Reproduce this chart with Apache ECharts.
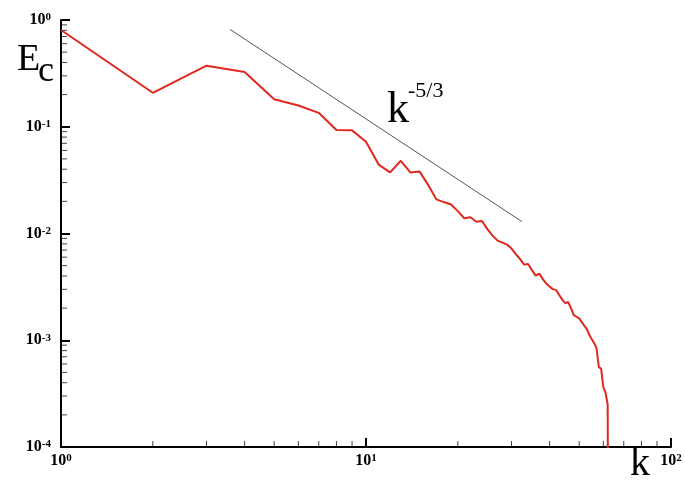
<!DOCTYPE html>
<html>
<head>
<meta charset="utf-8">
<script src="https://cdn.jsdelivr.net/npm/echarts@6/dist/echarts.min.js"></script>
<style>html,body{margin:0;padding:0;background:#fff}#c{width:685px;height:481px}</style>
</head>
<body>
<div id="c"></div>
<script>
// wavenumbers k and spectrum values E_c(k)
var kValues = [1,2,3,4,5,6,7,8,9,10,11,12,13,14,15,16,17,18,19,20,21,22,23,24,25,26,27,28,29,30,31,32,33,34,35,36,37,38,39,40,41,42,43,44,45,46,47,48,49,50,51,52,53,54,55,56,57,58,59,60,61,62,63];
var ecValues = [0.806,0.208,0.373,0.326,0.181,0.158,0.135,0.0931,0.0925,0.0723,0.0442,0.0374,0.048,0.0372,0.038,0.0284,0.0209,0.0197,0.0187,0.0162,0.0139,0.0142,0.0129,0.0131,0.0110,0.00955,0.00858,0.00822,0.00787,0.00722,0.00641,0.00575,0.00511,0.00517,0.00454,0.00403,0.00421,0.00374,0.00339,0.00318,0.00301,0.00295,0.00265,0.0024,0.00223,0.00228,0.0020,0.00172,0.00166,0.0016,0.00148,0.00136,0.00127,0.00112,0.00102,0.00094,0.000843,0.00056,0.000542,0.000363,0.000323,0.00025,0.0000000001];
// reference slope line k^-5/3 (endpoints)
var refK = [3.58, 32.5];
var refE = [0.818, 0.0129];
// axis ranges and minor tick positions
var xRange = [1, 100];
var yRange = [0.0001, 1];
var xMinorTicks = [2,3,4,5,6,7,8,9,20,30,40,50,60,70,80,90];
var yMinorTicks = [0.0002,0.0003,0.0004,0.0005,0.0006,0.0007,0.0008,0.0009,0.002,0.003,0.004,0.005,0.006,0.007,0.008,0.009,0.02,0.03,0.04,0.05,0.06,0.07,0.08,0.09,0.2,0.3,0.4,0.5,0.6,0.7,0.8,0.9];

var serif = "'Liberation Serif','Times New Roman',serif";
var chart = echarts.init(document.getElementById('c'));

function powLabel(v){
  var e = Math.round(Math.log10(v));
  return '{b|10}{s|' + e + '}';
}
var richLab = {
  b: {fontFamily: serif, fontWeight: 'bold', fontSize: 16, color: '#000', verticalAlign: 'bottom', lineHeight: 16},
  s: {fontFamily: serif, fontWeight: 'bold', fontSize: 11, color: '#000', verticalAlign: 'top', lineHeight: 11, padding: [0,0,4,0]}
};

var lineData = kValues.map(function(k, i){ return [k, ecValues[i]]; });
var refData = refK.map(function(k, i){ return [k, refE[i]]; });

chart.setOption({
  animation: false,
  backgroundColor: '#fff',
  grid: {left: 61, right: 14, top: 20, bottom: 34, containLabel: false},
  xAxis: {
    type: 'log', min: xRange[0], max: xRange[1], logBase: 10,
    axisLine: {show: true, onZero: false, lineStyle: {color: '#000', width: 2}},
    axisTick: {show: true, inside: true, length: 9, lineStyle: {color: '#000', width: 2}},
    splitLine: {show: false},
    axisLabel: {formatter: powLabel, rich: richLab, margin: 6}
  },
  yAxis: {
    type: 'log', min: yRange[0], max: yRange[1], logBase: 10,
    axisLine: {show: true, onZero: false, lineStyle: {color: '#000', width: 2}},
    axisTick: {show: true, inside: true, length: 9, lineStyle: {color: '#000', width: 2}},
    splitLine: {show: false},
    axisLabel: {formatter: powLabel, rich: richLab, margin: 10}
  },
  series: [
    {
      type: 'line', data: lineData, showSymbol: false, symbol: 'none', clip: true,
      lineStyle: {color: '#e0281e', width: 2}, z: 3
    },
    {
      type: 'line', data: refData, showSymbol: false, symbol: 'none',
      lineStyle: {color: '#555', width: 1}, z: 2
    },
    {
      type: 'custom', silent: true, clip: false, z: 4,
      data: xMinorTicks.map(function(v){ return [v, yRange[0]]; }),
      renderItem: function(params, api){
        var p = api.coord([api.value(0), api.value(1)]);
        return {type: 'line', shape: {x1: p[0], y1: p[1] - 1, x2: p[0], y2: p[1] - 6}, style: {stroke: '#444', lineWidth: 1}};
      }
    },
    {
      type: 'custom', silent: true, clip: false, z: 4,
      data: yMinorTicks.map(function(v){ return [xRange[0], v]; }),
      renderItem: function(params, api){
        var p = api.coord([api.value(0), api.value(1)]);
        return {type: 'line', shape: {x1: p[0] + 1, y1: p[1], x2: p[0] + 6, y2: p[1]}, style: {stroke: '#444', lineWidth: 1}};
      }
    }
  ],
  graphic: [
    {type: 'text', left: 17, top: 41, style: {text: 'E', font: "38px " + serif, fill: '#000'}},
    {type: 'text', left: 38, top: 54, style: {text: 'c', font: "36px " + serif, fill: '#000'}},
    {type: 'text', left: 630, top: 444, style: {text: 'k', font: "40px " + serif, fill: '#000'}},
    {type: 'text', left: 387, top: 88, style: {text: 'k', font: "44px " + serif, fill: '#000'}},
    {type: 'text', left: 408, top: 80, style: {text: '-5/3', font: "22px " + serif, fill: '#000'}}
  ]
});
</script>
</body>
</html>
